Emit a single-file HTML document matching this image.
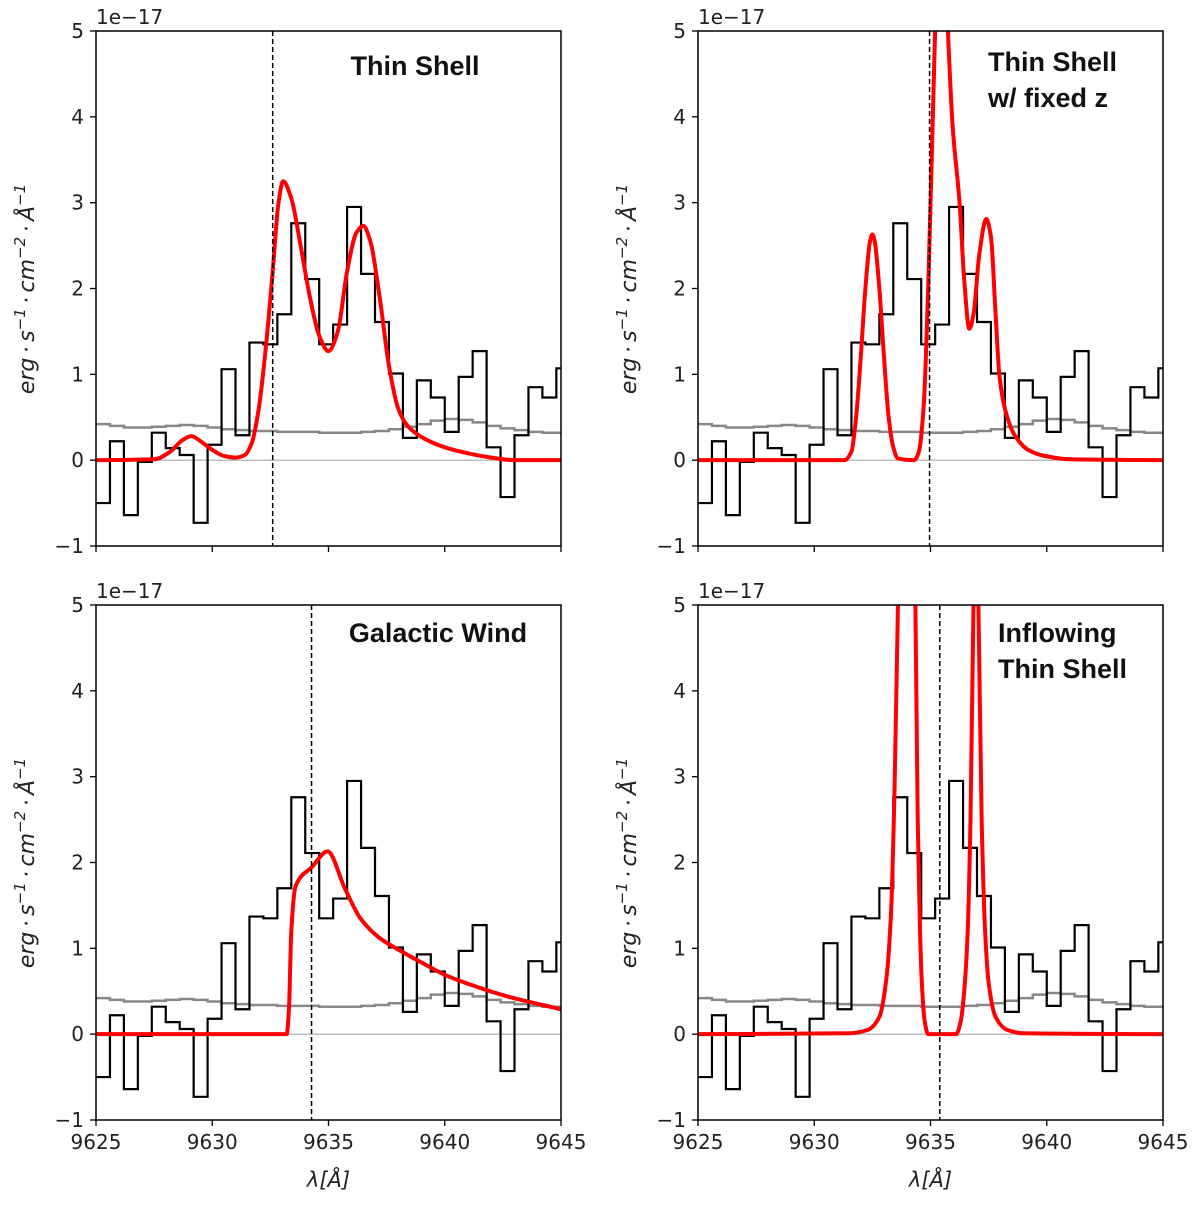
<!DOCTYPE html>
<html><head><meta charset="utf-8"><style>
html,body{margin:0;padding:0;background:#fff;}
svg text{font-family:"DejaVu Sans","Liberation Sans",sans-serif;}
</style></head><body>
<svg id="fig" width="1200" height="1205" viewBox="0 0 1200 1205" xmlns="http://www.w3.org/2000/svg"></svg>
<script>
// ---- data ----
const binStart = 9625.0;
const binWidth = 0.6;
const fluxBins = [-0.5,0.22,-0.64,-0.02,0.32,0.14,0.06,-0.73,0.18,1.06,0.29,1.37,1.35,1.70,2.76,2.11,1.35,1.58,2.95,2.17,1.61,1.01,0.26,0.93,0.73,0.33,0.97,1.27,0.15,-0.43,0.29,0.85,0.73,1.07];
const noiseBins = [0.42,0.40,0.38,0.38,0.39,0.40,0.41,0.40,0.38,0.36,0.35,0.34,0.34,0.33,0.33,0.33,0.32,0.32,0.32,0.33,0.34,0.36,0.39,0.42,0.46,0.48,0.47,0.44,0.40,0.37,0.35,0.33,0.32,0.32];
const xTicks = [9625,9630,9635,9640,9645];
const yTicks = [-1,0,1,2,3,4,5];
const modelThinShell = [[9625,0],[9627.5,0.01],[9628.2,0.1],[9628.7,0.23],[9629.1,0.28],[9629.5,0.22],[9630.0,0.12],[9630.5,0.05],[9631.0,0.03],[9631.4,0.06],[9631.7,0.2],[9632.0,0.6],[9632.3,1.3],[9632.6,2.2],[9632.85,3.0],[9633.05,3.25],[9633.4,3.05],[9633.8,2.5],[9634.2,1.9],[9634.6,1.45],[9635.0,1.27],[9635.4,1.5],[9635.8,2.2],[9636.2,2.65],[9636.5,2.73],[9636.8,2.55],[9637.2,1.9],[9637.6,1.1],[9638.0,0.6],[9638.4,0.4],[9639,0.27],[9640,0.15],[9641,0.08],[9642,0.03],[9643,0],[9645,0]];
const modelFixedZ = [[9625,0],[9631.3,0],[9631.6,0.1],[9631.8,0.5],[9632.0,1.2],[9632.2,2.0],[9632.4,2.55],[9632.5,2.63],[9632.6,2.55],[9632.8,2.0],[9633.0,1.2],[9633.2,0.5],[9633.4,0.15],[9633.6,0.02],[9634.3,0],[9634.5,0.1],[9634.7,0.6],[9634.9,2.0],[9635.1,4.0],[9635.3,5.8],[9635.55,6.5],[9635.75,5.0],[9635.95,3.9],[9636.25,3.0],[9636.45,2.1],[9636.67,1.53],[9636.85,1.7],[9637.1,2.4],[9637.4,2.81],[9637.6,2.6],[9637.8,1.7],[9637.96,1.0],[9638.2,0.6],[9638.6,0.3],[9639.2,0.12],[9639.9,0.05],[9641,0.01],[9645,0]];
const modelWind = [[9625,0],[9633.2,0],[9633.3,0.3],[9633.4,1.2],[9633.58,1.72],[9634.3,1.95],[9634.96,2.13],[9635.7,1.7],[9636.37,1.35],[9637.2,1.12],[9638.1,0.97],[9639.1,0.82],[9640.1,0.68],[9641.4,0.55],[9642.7,0.44],[9645,0.29]];
const modelInflow = [[9625,0],[9631.5,0.01],[9632.3,0.05],[9632.8,0.2],[9633.1,0.64],[9633.3,1.4],[9633.45,2.8],[9633.6,5],[9633.97,9],[9634.35,5],[9634.45,2.5],[9634.55,1.2],[9634.62,0.64],[9634.75,0.15],[9634.9,0],[9636.1,0],[9636.3,0.15],[9636.45,0.5],[9636.6,1.2],[9636.72,2.5],[9636.85,5],[9636.96,8],[9637.06,5],[9637.2,2.5],[9637.35,1.2],[9637.5,0.6],[9637.8,0.2],[9638.3,0.05],[9639,0.01],[9645,0]];
const systemicLines = [9632.6, 9634.96, 9634.27, 9635.4];

const panels = [
 {name:'thin-shell', x0:96, y0:31, model:modelThinShell, z:systemicLines[0], title:['Thin Shell'], tx:415, ty:66, anchor:'middle', xlab:false},
 {name:'thin-shell-fixed-z', x0:698, y0:31, model:modelFixedZ, z:systemicLines[1], title:['Thin Shell','w/ fixed z'], tx:988, ty:62, anchor:'start', xlab:false},
 {name:'galactic-wind', x0:96, y0:605, model:modelWind, z:systemicLines[2], title:['Galactic Wind'], tx:438, ty:633, anchor:'middle', xlab:true},
 {name:'inflowing-thin-shell', x0:698, y0:605, model:modelInflow, z:systemicLines[3], title:['Inflowing','Thin Shell'], tx:998, ty:633, anchor:'start', xlab:true}
];
const W=465, H=515;
const NS='http://www.w3.org/2000/svg';
const svg=document.getElementById('fig');
function el(tag, attrs, parent){const e=document.createElementNS(NS,tag);for(const k in attrs)e.setAttribute(k,attrs[k]);(parent||svg).appendChild(e);return e;}

// monotone cubic path (Fritsch-Carlson) in pixel space
function monoPath(P){
  const n=P.length, d=[], m=[];
  for(let i=0;i<n-1;i++) d.push((P[i+1][1]-P[i][1])/(P[i+1][0]-P[i][0]));
  m[0]=d[0]; m[n-1]=d[n-2];
  for(let i=1;i<n-1;i++){ if(d[i-1]*d[i]<=0) m[i]=0; else { const w1=2*(P[i+1][0]-P[i][0])+(P[i][0]-P[i-1][0]), w2=(P[i+1][0]-P[i][0])+2*(P[i][0]-P[i-1][0]); m[i]=(w1+w2)/(w1/d[i-1]+w2/d[i]); } }
  let s='M'+P[0][0]+','+P[0][1];
  for(let i=0;i<n-1;i++){ const h=(P[i+1][0]-P[i][0])/3;
    s+='C'+(P[i][0]+h)+','+(P[i][1]+m[i]*h)+' '+(P[i+1][0]-h)+','+(P[i+1][1]-m[i+1]*h)+' '+P[i+1][0]+','+P[i+1][1]; }
  return s;
}

panels.forEach((p,pi)=>{
  const sx=v=>p.x0+(v-9625)/20*W;
  const sy=v=>p.y0+(5-v)/6*H;
  const g=el('g',{});
  
  
  const cid='clip'+pi;
  const cp=el('clipPath',{id:cid},g); el('rect',{x:p.x0,y:p.y0,width:W,height:H},cp);
  const plot=el('g',{'clip-path':'url(#'+cid+')'},g);
  const zl=el('line',{x1:p.x0,x2:p.x0+W,y1:sy(0),y2:sy(0),stroke:'#aaa','stroke-width':1.2},plot);
  
  
  function steps(arr){let d='';arr.forEach((v,i)=>{const a=sx(binStart+i*binWidth),b=sx(binStart+(i+1)*binWidth);d+=(i?'L':'M')+a+','+sy(v)+'L'+b+','+sy(v);});return d;}
  const nz=el('path',{d:steps(noiseBins),fill:'none',stroke:'#888','stroke-width':2.5},plot);
  
  
  const fl=el('path',{d:steps(fluxBins),fill:'none',stroke:'#000','stroke-width':2.2},plot);
  
  
  const md=el('path',{d:monoPath(p.model.map(q=>[sx(q[0]),sy(q[1])])),fill:'none',stroke:'#f00','stroke-width':4,'stroke-linejoin':'round'},plot);
  
  
  const zl2=el('line',{x1:sx(p.z),x2:sx(p.z),y1:p.y0,y2:p.y0+H,stroke:'#000','stroke-width':1.5,'stroke-dasharray':'5,3'},plot);
  
  
  el('rect',{x:p.x0,y:p.y0,width:W,height:H,fill:'none',stroke:'#000','stroke-width':1.5},g);
  yTicks.forEach(t=>{
    el('line',{x1:p.x0-6,x2:p.x0,y1:sy(t),y2:sy(t),stroke:'#000','stroke-width':1.3},g);
    const tt=el('text',{x:p.x0-12,y:sy(t)+7,'text-anchor':'end','font-size':20,fill:'#222'},g);
    tt.textContent=(t<0?'\u2212'+(-t):t);
    
    
  });
  xTicks.forEach(t=>{
    el('line',{x1:sx(t),x2:sx(t),y1:p.y0+H,y2:p.y0+H+6,stroke:'#000','stroke-width':1.3},g);
    if(p.xlab){
      const tt=el('text',{x:sx(t),y:p.y0+H+29,'text-anchor':'middle','font-size':20,fill:'#222'},g);
      tt.textContent=t;
      
      
    }
  });
  const off=el('text',{x:p.x0,y:p.y0-7,'font-size':20,fill:'#222'},g);
  off.textContent='1e\u221217';
  
  
  const yl=el('text',{transform:'translate('+(p.x0-62)+','+(p.y0+258)+') rotate(-90)','text-anchor':'middle','font-size':22,'font-style':'italic',fill:'#222'},g);
  yl.innerHTML='erg\u2009\u00b7\u2009s<tspan dy="-9" font-size="15">\u22121</tspan><tspan dy="9">\u2009\u00b7\u2009cm</tspan><tspan dy="-9" font-size="15">\u22122</tspan><tspan dy="9">\u2009\u00b7\u2009\u00c5</tspan><tspan dy="-9" font-size="15">\u22121</tspan>';
  
  
  if(p.xlab){
    const xl=el('text',{x:p.x0+W/2,y:p.y0+H+67,'text-anchor':'middle','font-size':21,'font-style':'italic',fill:'#222'},g);
    xl.textContent='\u03bb[\u00c5]';
    
    
  }
  p.title.forEach((s,i)=>{
    const t=el('text',{x:p.tx,y:p.ty+i*36+9,'text-anchor':p.anchor,'font-size':27,'font-weight':'bold',fill:'#111'},g);
    t.setAttribute('style','font-family:"Liberation Sans",sans-serif');
    t.textContent=s;
    
    
  });
});
</script>
</body></html>
